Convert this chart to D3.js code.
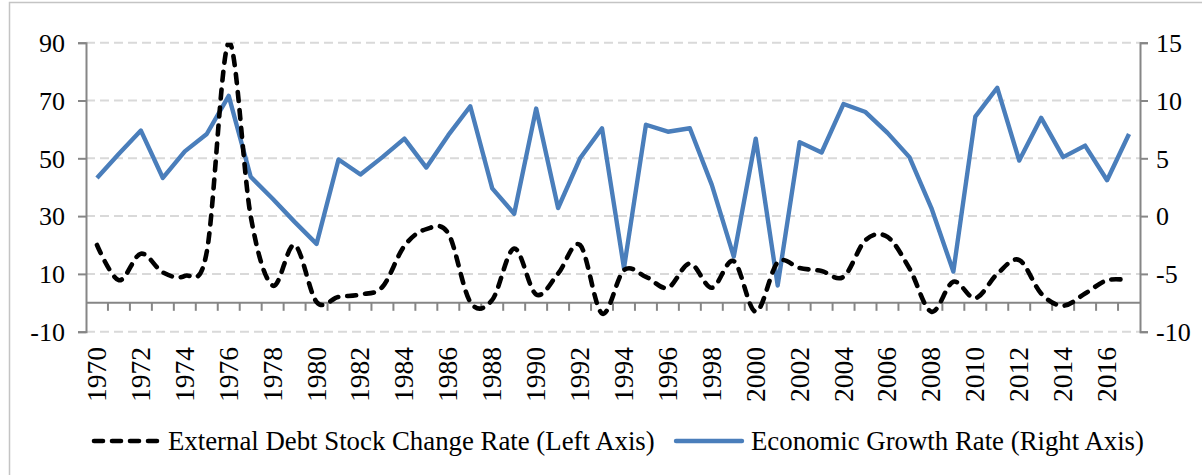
<!DOCTYPE html>
<html>
<head>
<meta charset="utf-8">
<script src="https://cdn.jsdelivr.net/npm/d3@7"></script>
<style>
  html, body { margin: 0; padding: 0; background: #fff; }
  svg { display: block; }
  svg text { font-family: "Liberation Serif", "Times New Roman", serif; fill: #000; }
</style>
</head>
<body>
<svg id="chart" width="1202" height="475"></svg>
<script>
// Years 1970–2017
const years = d3.range(1970, 2018);

// External debt stock change rate, % (left axis)
const debtChange = [
  20, 7.8, 17, 10.5, 9.3, 17.6, 90, 30, 6, 20,
  0.3, 2, 2.9, 5.5, 19.7, 25.5, 24, 0.3, 1, 18.8,
  2.9, 10.1, 20, -3.7, 11.3, 9, 5.2, 13.6, 5.2, 14.4,
  -3.1, 14, 12, 11, 9, 21.7, 22.8, 11.9, -3.1, 7.3,
  1.6, 10, 14.8, 3.2, -1, 3.2, 7.8, 7.8
];

// Economic growth rate, % (right axis)
const growth = [
  3.3, 5.4, 7.4, 3.3, 5.6, 7.1, 10.4, 3.4, 1.5, -0.5,
  -2.4, 4.9, 3.6, 5.1, 6.7, 4.2, 7.0, 9.5, 2.4, 0.2,
  9.3, 0.7, 5.0, 7.6, -4.5, 7.9, 7.3, 7.6, 2.7, -3.5,
  6.7, -6.0, 6.4, 5.5, 9.7, 9.0, 7.2, 5.1, 0.7, -4.8,
  8.6, 11.1, 4.8, 8.5, 5.1, 6.1, 3.1, 7.1
];

const leftTicks = [-10, 10, 30, 50, 70, 90];
const rightTicks = [-10, -5, 0, 5, 10, 15];
const yearLabels = years.filter(y => y % 2 === 0);

const legendItems = [
  "External Debt Stock Change Rate (Left Axis)",
  "Economic Growth Rate (Right Axis)"
];

const svg = d3.select("#chart");
const plot = { left: 86, right: 1140, top: 42.7, bottom: 331.7 };
const axisGrey = "#868686";
const gridGrey = "#d9d9d9";
const blue = "#4a7ebb";

// frame
svg.append("path")
  .attr("d", `M9.5,476V2.5H1202`)
  .attr("fill", "none").attr("stroke", "#c4c4c4").attr("stroke-width", 1.5);

const x = d3.scaleBand().domain(years).range([plot.left, plot.right]);
const yL = d3.scaleLinear().domain([-10, 90]).range([plot.bottom, plot.top]);
const yR = d3.scaleLinear().domain([-10, 15]).range([plot.bottom, plot.top]);
const cx = d => x(d) + x.bandwidth() / 2;

// horizontal grid
svg.append("g").selectAll("line").data(leftTicks).join("line")
  .attr("x1", plot.left).attr("x2", plot.right)
  .attr("y1", d => yL(d)).attr("y2", d => yL(d))
  .attr("stroke", gridGrey).attr("stroke-width", 2)
  .attr("stroke-dasharray", "9,5");

// left and right value axes
const gL = svg.append("g").attr("transform", `translate(${plot.left},0)`)
  .call(d3.axisLeft(yL).tickValues(leftTicks).tickSize(8).tickPadding(13).tickFormat(d => String(d)));
const gR = svg.append("g").attr("transform", `translate(${plot.right},0)`)
  .call(d3.axisRight(yR).tickValues(rightTicks).tickSize(8).tickPadding(8).tickFormat(d => String(d)));
[gL, gR].forEach(g => {
  g.attr("font-family", null).attr("font-size", null);
  g.select(".domain").attr("stroke", axisGrey).attr("stroke-width", 2);
  g.selectAll(".tick line").attr("stroke", axisGrey).attr("stroke-width", 2);
  g.selectAll(".tick text").attr("font-size", 26).attr("dy", "0.34em");
});

// category axis along the zero line of the left scale
const gX = svg.append("g").attr("transform", `translate(0,${yL(0)})`);
gX.append("line").attr("x1", plot.left).attr("x2", plot.right)
  .attr("stroke", axisGrey).attr("stroke-width", 2);
gX.selectAll("line.tk").data(years.slice(1)).join("line").attr("class", "tk")
  .attr("x1", d => x(d)).attr("x2", d => x(d)).attr("y1", 0).attr("y2", 8)
  .attr("stroke", axisGrey).attr("stroke-width", 2);

// year labels, rotated
svg.append("g").selectAll("text").data(yearLabels).join("text")
  .attr("transform", d => `translate(${cx(d) + 9},347) rotate(-90)`)
  .attr("text-anchor", "end")
  .attr("font-size", 27.5)
  .text(d => d);

// clip to plot area
svg.append("clipPath").attr("id", "plotclip").append("rect")
  .attr("x", plot.left).attr("y", plot.top)
  .attr("width", plot.right - plot.left).attr("height", plot.bottom - plot.top);

const debtLine = d3.line()
  .x((d, i) => cx(years[i])).y(d => yL(d))
  .curve(d3.curveCardinal.tension(0));
const growthLine = d3.line()
  .x((d, i) => cx(years[i])).y(d => yR(d));

const lines = svg.append("g").attr("clip-path", "url(#plotclip)");
lines.append("path").datum(growth).attr("d", growthLine)
  .attr("fill", "none").attr("stroke", blue).attr("stroke-width", 4.4)
  .attr("stroke-linejoin", "round");
lines.append("path").datum(debtChange).attr("d", debtLine)
  .attr("fill", "none").attr("stroke", "#000").attr("stroke-width", 4.6)
  .attr("stroke-dasharray", "9,9").attr("stroke-linecap", "round");

// legend
const lg = svg.append("g");
lg.append("line").attr("x1", 94).attr("x2", 162).attr("y1", 441).attr("y2", 441)
  .attr("stroke", "#000").attr("stroke-width", 4.6)
  .attr("stroke-dasharray", "9,9").attr("stroke-linecap", "round");
lg.append("text").attr("x", 168).attr("y", 450).attr("font-size", 26.8).text(legendItems[0]);
lg.append("line").attr("x1", 676).attr("x2", 742).attr("y1", 441).attr("y2", 441)
  .attr("stroke", blue).attr("stroke-width", 4.4).attr("stroke-linecap", "round");
lg.append("text").attr("x", 751).attr("y", 450).attr("font-size", 26.8).text(legendItems[1]);
</script>
</body>
</html>
